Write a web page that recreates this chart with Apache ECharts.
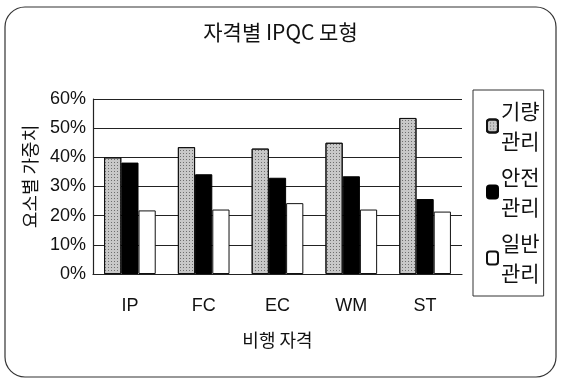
<!DOCTYPE html>
<html>
<head>
<meta charset="utf-8">
<script src="https://cdn.jsdelivr.net/npm/echarts@6/dist/echarts.min.js"></script>
<style>
  html, body { margin: 0; padding: 0; background: #fff; }
  #chart { width: 561px; height: 382px; }
</style>
</head>
<body>
<div id="chart"></div>
<script>
  var categories = ['IP', 'FC', 'EC', 'WM', 'ST'];
  var seriesNames = ['기량\n관리', '안전\n관리', '일반\n관리'];
  var skillData = [40, 43.5, 43, 45, 53.5];
  var safetyData = [38.2, 34.2, 33, 33.5, 25.7];
  var generalData = [21.8, 22.1, 24.3, 22.1, 21.4];
  var yTicks = [0, 10, 20, 30, 40, 50, 60];

  var font = '"Noto Sans CJK KR", "Noto Sans", sans-serif';
  var narrow = '"Liberation Sans Narrow", "Liberation Sans", sans-serif';
  var mChart = echarts.init(document.querySelector('#chart'));

  // gray bars with a dotted texture like the scan
  var dotDecal = {
    symbol: 'rect',
    symbolSize: 1,
    dashArrayX: [1, 2],
    dashArrayY: [1, 2],
    color: '#6e6e6e',
    rotation: 0
  };

  var option = {
    backgroundColor: '#fff',
    animation: false,
    title: {
      text: '자격별 IPQC 모형',
      left: 'center',
      top: 22,
      padding: [0, 0, 0, 10],
      textStyle: { fontFamily: font, fontSize: 21, fontWeight: 'normal', color: '#111' }
    },
    graphic: [{
      type: 'rect',
      shape: { x: 5, y: 7, width: 551, height: 370, r: 20 },
      style: { fill: 'none', stroke: '#333', lineWidth: 1.2 },
      z: -1
    }],
    legend: {
      orient: 'vertical',
      left: 473,
      top: 90,
      width: 80,
      padding: [6, 4, 8, 13],
      itemGap: 6,
      itemWidth: 11,
      itemHeight: 13,
      borderColor: '#333',
      borderWidth: 1,
      textStyle: { fontFamily: font, fontSize: 21, lineHeight: 30, color: '#111', padding: [0, 0, 0, -2] },
      data: seriesNames
    },
    grid: { left: 93, right: 99, top: 99, bottom: 108 },
    xAxis: {
      type: 'category',
      data: categories,
      name: '비행 자격',
      nameLocation: 'middle',
      nameGap: 57,
      nameTextStyle: { fontFamily: font, fontSize: 18, color: '#111' },
      axisLine: { lineStyle: { color: '#222', width: 1.2 } },
      axisTick: { inside: true, length: 5, lineStyle: { color: '#222' } },
      axisLabel: { fontFamily: narrow, fontSize: 18, color: '#111', margin: 23 }
    },
    yAxis: {
      type: 'value',
      min: 0,
      max: 60,
      interval: 10,
      name: '요소별 가중치',
      nameLocation: 'middle',
      nameGap: 52,
      nameTextStyle: { fontFamily: font, fontSize: 18, color: '#111', padding: [0, 0, 0, 20] },
      axisLine: { show: true, lineStyle: { color: '#222', width: 1.2 } },
      axisTick: { show: false },
      axisLabel: {
        fontFamily: narrow, fontSize: 18, color: '#111', margin: 7,
        formatter: function (v) { return yTicks.indexOf(v) >= 0 ? v + '%' : ''; }
      },
      splitLine: { lineStyle: { color: '#222', width: 1 } }
    },
    series: [{
      name: seriesNames[0],
      type: 'bar',
      data: skillData,
      barGap: '0%',
      barCategoryGap: '30%',
      itemStyle: { color: '#c8c8c8', borderColor: '#111', borderWidth: 1, decal: dotDecal }
    }, {
      name: seriesNames[1],
      type: 'bar',
      data: safetyData,
      itemStyle: { color: '#000', borderColor: '#000', borderWidth: 1 }
    }, {
      name: seriesNames[2],
      type: 'bar',
      data: generalData,
      itemStyle: { color: '#fff', borderColor: '#111', borderWidth: 1 }
    }],
    aria: { enabled: true, decal: { show: false } }
  };

  mChart.setOption(option);
</script>
</body>
</html>
